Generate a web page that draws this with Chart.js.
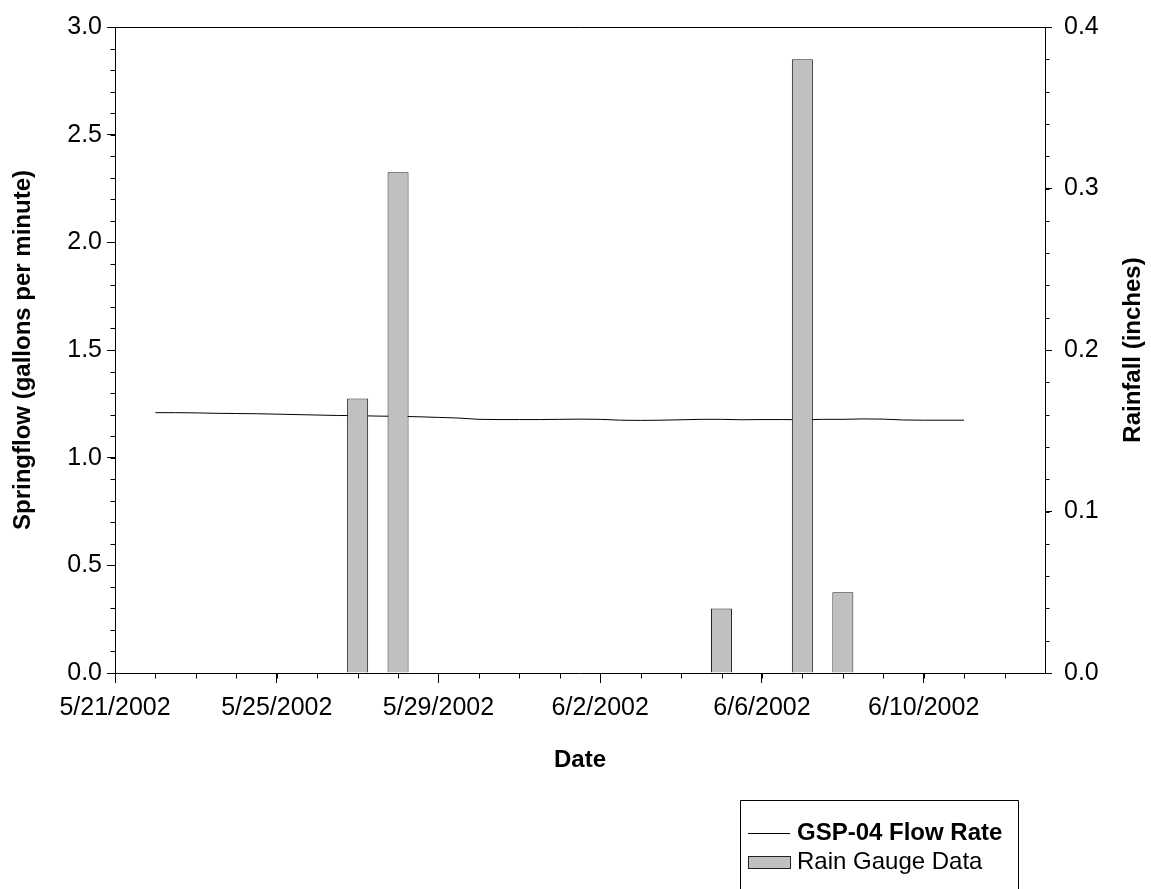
<!DOCTYPE html>
<html>
<head>
<meta charset="utf-8">
<script src="https://cdn.jsdelivr.net/npm/chart.js@4.4.1/dist/chart.umd.min.js"></script>
<style>
  html, body { margin: 0; padding: 0; background: #fff; overflow: hidden; }
  canvas { display: block; }
</style>
</head>
<body>
<canvas id="chart" width="1151" height="889"></canvas>
<script>
// ---- data ----
const ORIGIN = '2002-05-21';
const AXIS_END = '2002-06-13';

const xTickDates = ['2002-05-21', '2002-05-25', '2002-05-29', '2002-06-02', '2002-06-06', '2002-06-10'];
const flowTicks = [0, 0.5, 1.0, 1.5, 2.0, 2.5, 3.0];
const rainTicks = [0, 0.1, 0.2, 0.3, 0.4];

// daily rain gauge totals (inches)
const rainDates = ['2002-05-27', '2002-05-28', '2002-06-05', '2002-06-07', '2002-06-08'];
const rainInches = [0.17, 0.31, 0.04, 0.38, 0.05];

// GSP-04 springflow (gallons per minute)
const flowTimes = [
  '2002-05-22 00:00', '2002-05-22 12:00', '2002-05-23 00:00', '2002-05-23 12:00',
  '2002-05-24 00:00', '2002-05-24 12:00', '2002-05-25 00:00', '2002-05-25 12:00',
  '2002-05-26 00:00', '2002-05-26 12:00', '2002-05-27 00:00', '2002-05-27 12:00',
  '2002-05-28 00:00', '2002-05-28 12:00', '2002-05-29 00:00', '2002-05-29 12:00',
  '2002-05-30 00:00', '2002-05-30 12:00', '2002-05-31 00:00', '2002-05-31 12:00',
  '2002-06-01 00:00', '2002-06-01 12:00', '2002-06-02 00:00', '2002-06-02 12:00',
  '2002-06-03 00:00', '2002-06-03 12:00', '2002-06-04 00:00', '2002-06-04 12:00',
  '2002-06-05 00:00', '2002-06-05 12:00', '2002-06-06 00:00', '2002-06-06 12:00',
  '2002-06-07 00:00', '2002-06-07 12:00', '2002-06-08 00:00', '2002-06-08 12:00',
  '2002-06-09 00:00', '2002-06-09 12:00', '2002-06-10 00:00', '2002-06-10 12:00',
  '2002-06-11 00:00'
];
const flowGpm = [
  1.209, 1.209, 1.208, 1.206, 1.205, 1.204, 1.202, 1.200,
  1.198, 1.196, 1.195, 1.193, 1.192, 1.190, 1.187, 1.184,
  1.178, 1.177, 1.177, 1.177, 1.178, 1.179, 1.178, 1.174,
  1.173, 1.174, 1.176, 1.178, 1.178, 1.176, 1.177, 1.177,
  1.176, 1.178, 1.178, 1.180, 1.179, 1.175, 1.174, 1.174,
  1.174
];

// ---- helpers ----
const DAY_MS = 86400000;
function toUTC(s) {
  const [d, t] = s.split(' ');
  const [y, m, dd] = d.split('-').map(Number);
  const [hh, mm] = (t || '00:00').split(':').map(Number);
  return Date.UTC(y, m - 1, dd, hh, mm);
}
const ORIGIN_MS = toUTC(ORIGIN);
const dayOf = s => (toUTC(s) - ORIGIN_MS) / DAY_MS;
function fmtDate(v) {
  const dt = new Date(ORIGIN_MS + Math.round(v * DAY_MS));
  return (dt.getUTCMonth() + 1) + '/' + dt.getUTCDate() + '/' + dt.getUTCFullYear();
}

const FONT = '"Liberation Sans", Arial, Helvetica, sans-serif';

// short unlabeled ticks between the labelled ones, plus the top frame line
const minorTicks = {
  id: 'minorTicks',
  afterDraw(chart, args, opts) {
    const ctx = chart.ctx;
    ctx.save();
    ctx.strokeStyle = '#000';
    ctx.lineWidth = 1;
    Object.keys(opts.scales).forEach(id => {
      const s = chart.scales[id];
      const { step, length } = opts.scales[id];
      const n = Math.round((s.max - s.min) / step);
      ctx.beginPath();
      for (let i = 1; i < n; i++) {
        const v = s.min + i * step;
        const p = Math.round(s.getPixelForValue(v)) + 0.5;
        if (s.isHorizontal()) {
          const y = Math.round(s.top) + 0.5;
          ctx.moveTo(p, y); ctx.lineTo(p, y + length);
        } else if (s.position === 'left') {
          const x = Math.round(s.right) + 0.5;
          ctx.moveTo(x, p); ctx.lineTo(x - length, p);
        } else {
          const x = Math.round(s.left) + 0.5;
          ctx.moveTo(x, p); ctx.lineTo(x + length, p);
        }
      }
      ctx.stroke();
    });
    const a = chart.chartArea;
    ctx.beginPath();
    ctx.moveTo(Math.round(a.left) + 0.5, Math.round(a.top) + 0.5);
    ctx.lineTo(Math.round(a.right) + 0.5, Math.round(a.top) + 0.5);
    ctx.stroke();
    ctx.restore();
  }
};

// right-axis title, reading bottom to top
const rightTitle = {
  id: 'rightTitle',
  afterDraw(chart, args, opts) {
    const s = chart.scales.y1;
    const t = s.options.title;
    const ctx = chart.ctx;
    ctx.save();
    ctx.translate(opts.x, (s.top + s.bottom) / 2);
    ctx.rotate(-Math.PI / 2);
    ctx.font = 'bold 24px ' + FONT;
    ctx.fillStyle = '#000';
    ctx.textAlign = 'center';
    ctx.textBaseline = 'middle';
    ctx.fillText(t.text, 0, 0);
    ctx.restore();
  }
};

// framed legend in the lower right
const legendBox = {
  id: 'legendBox',
  afterDraw(chart, args, o) {
    const ctx = chart.ctx;
    ctx.save();
    ctx.strokeStyle = '#000';
    ctx.lineWidth = 1;
    ctx.beginPath();
    ctx.moveTo(o.left + 0.5, chart.height + 2);
    ctx.lineTo(o.left + 0.5, o.top + 0.5);
    ctx.lineTo(o.right + 0.5, o.top + 0.5);
    ctx.lineTo(o.right + 0.5, chart.height + 2);
    ctx.stroke();
    o.items.forEach(it => {
      const ds = chart.data.datasets[it.dataset];
      const y = it.y;
      if (ds.type === 'line') {
        ctx.strokeStyle = ds.borderColor;
        ctx.lineWidth = ds.borderWidth;
        ctx.beginPath();
        ctx.moveTo(o.sampleX, y + 0.5);
        ctx.lineTo(o.sampleX + o.sampleW, y + 0.5);
        ctx.stroke();
      } else {
        ctx.fillStyle = ds.backgroundColor;
        ctx.fillRect(o.sampleX, y - o.boxH / 2, o.sampleW, o.boxH);
        ctx.strokeStyle = ds.borderColor;
        ctx.lineWidth = 1;
        ctx.strokeRect(o.sampleX + 0.5, Math.round(y - o.boxH / 2) + 0.5, o.sampleW, o.boxH);
      }
      ctx.fillStyle = '#000';
      ctx.font = (it.bold ? 'bold ' : '') + '24px ' + FONT;
      ctx.textAlign = 'left';
      ctx.textBaseline = 'middle';
      ctx.fillText(ds.label, o.textX, y);
    });
    ctx.restore();
  }
};

const tickFont = { family: FONT, size: 25 };
const titleFont = { family: FONT, size: 24, weight: 'bold' };

new Chart(document.getElementById('chart'), {
  data: {
    datasets: [
      {
        type: 'bar',
        label: 'Rain Gauge Data',
        xAxisID: 'x',
        yAxisID: 'y1',
        data: rainDates.map((d, i) => ({ x: dayOf(d), y: rainInches[i] })),
        backgroundColor: '#c0c0c0',
        borderColor: '#222',
        borderWidth: 1,
        barPercentage: 0.52,
        categoryPercentage: 1,
        order: 0
      },
      {
        type: 'line',
        label: 'GSP-04 Flow Rate',
        xAxisID: 'x',
        yAxisID: 'y',
        data: flowTimes.map((t, i) => ({ x: dayOf(t), y: flowGpm[i] })),
        borderColor: '#000',
        borderWidth: 1,
        pointRadius: 0,
        tension: 0,
        fill: false,
        order: 1
      }
    ]
  },
  options: {
    responsive: false,
    animation: false,
    layout: { padding: { top: 23, left: 0, right: 0, bottom: 0 } },
    plugins: {
      legend: { display: false },
      tooltip: { enabled: false },
      minorTicks: {
        scales: {
          x: { step: 1, length: 5 },
          y: { step: 0.1, length: 5 },
          y1: { step: 0.02, length: 4 }
        }
      },
      rightTitle: { x: 1133 },
      legendBox: {
        left: 740, top: 800, right: 1018,
        sampleX: 748, sampleW: 42, boxH: 12, textX: 797,
        items: [
          { dataset: 1, y: 833, bold: true },
          { dataset: 0, y: 862, bold: false }
        ]
      }
    },
    scales: {
      x: {
        type: 'linear',
        position: 'bottom',
        offset: false,
        min: dayOf(ORIGIN),
        max: dayOf(AXIS_END),
        afterBuildTicks: s => { s.ticks = xTickDates.map(d => ({ value: dayOf(d) })); },
        afterFit: s => { s.height = 216; },
        ticks: { callback: v => fmtDate(v), font: tickFont, color: '#000', padding: 10, maxRotation: 0, autoSkip: false },
        grid: { offset: false, drawOnChartArea: false, drawTicks: true, tickLength: 10, tickColor: '#000', tickWidth: 1 },
        border: { display: true, color: '#000', width: 1 },
        title: { display: true, text: 'Date', font: titleFont, color: '#000', padding: { top: 0, bottom: 114 } }
      },
      y: {
        type: 'linear',
        position: 'left',
        min: 0,
        max: 3,
        afterBuildTicks: s => { s.ticks = flowTicks.map(v => ({ value: v })); },
        afterFit: s => { s.width = 115; },
        ticks: { callback: v => Number(v).toFixed(1), font: tickFont, color: '#000', padding: 5 },
        grid: { drawOnChartArea: false, drawTicks: true, tickLength: 8, tickColor: '#000', tickWidth: 1 },
        border: { display: true, color: '#000', width: 1 },
        title: { display: true, text: 'Springflow (gallons per minute)', font: titleFont, color: '#000', padding: { top: 9, bottom: 0 } }
      },
      y1: {
        type: 'linear',
        position: 'right',
        min: 0,
        max: 0.4,
        afterBuildTicks: s => { s.ticks = rainTicks.map(v => ({ value: v })); },
        afterFit: s => { s.width = 106; },
        ticks: { callback: v => Number(v).toFixed(1), font: tickFont, color: '#000', padding: 12 },
        grid: { drawOnChartArea: false, drawTicks: true, tickLength: 7, tickColor: '#000', tickWidth: 1 },
        border: { display: true, color: '#000', width: 1 },
        title: { display: false, text: 'Rainfall (inches)' }
      }
    }
  },
  plugins: [minorTicks, rightTitle, legendBox]
});
</script>
</body>
</html>
